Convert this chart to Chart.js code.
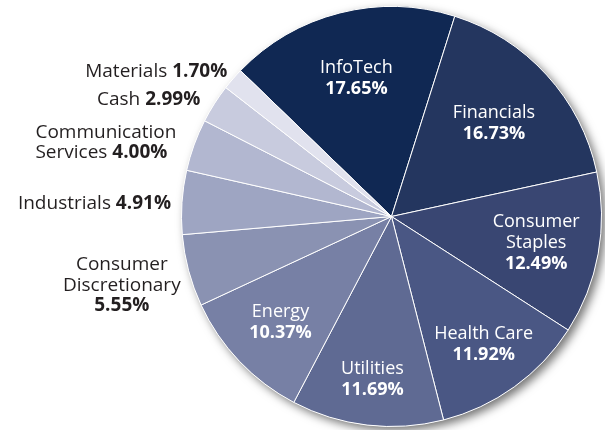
<!DOCTYPE html>
<html>
<head>
<meta charset="utf-8">
<script src="https://cdn.jsdelivr.net/npm/chart.js@4/dist/chart.umd.min.js"></script>
<style>
  html, body { margin: 0; padding: 0; background: #fff; }
  #wrap { width: 605px; height: 430px; }
</style>
</head>
<body>
<div id="wrap"><canvas id="sector-chart"></canvas></div>
<script>
// Sector weights, clockwise from InfoTech
const sectors = ["InfoTech", "Financials", "Consumer Staples", "Health Care", "Utilities", "Energy",
                 "Consumer Discretionary", "Industrials", "Communication Services", "Cash", "Materials"];
const weights = [17.65, 16.73, 12.49, 11.92, 11.69, 10.37, 5.55, 4.91, 4.00, 2.99, 1.70];
const sliceColors = ["#102853", "#24365f", "#394672", "#4a5784", "#5f6a93", "#7780a5",
                     "#8a92b2", "#9ea5c2", "#b2b7d0", "#c8cbde", "#e1e2ee"];
// how each name is broken over lines
const nameLines = [["InfoTech"], ["Financials"], ["Consumer", "Staples"], ["Health Care"], ["Utilities"], ["Energy"],
                   ["Consumer", "Discretionary"], ["Industrials"], ["Communication", "Services"], ["Cash"], ["Materials"]];

const FONT = "'Open Sans', sans-serif";

// soft shadow under the whole pie
const pieShadow = {
    id: 'pieShadow',
    beforeDatasetsDraw(chart) {
        const arc = chart.getDatasetMeta(0).data[0];
        if (!arc) return;
        const ctx = chart.ctx;
        ctx.save();
        ctx.shadowColor = 'rgba(0, 0, 0, 0.55)';
        ctx.shadowBlur = 10;
        ctx.shadowOffsetX = 4;
        ctx.shadowOffsetY = 4;
        ctx.fillStyle = '#fff';
        ctx.beginPath();
        ctx.arc(arc.x, arc.y, arc.outerRadius, 0, Math.PI * 2);
        ctx.fill();
        ctx.restore();
    }
};

// labels: big slices get white text inside, small ones dark text to the left
const sliceLabels = {
    id: 'sliceLabels',
    afterDatasetsDraw(chart, args, opts) {
        const ctx = chart.ctx;
        const meta = chart.getDatasetMeta(0);
        ctx.save();
        ctx.textBaseline = 'middle';
        meta.data.forEach((arc, i) => {
            const mid = (arc.startAngle + arc.endAngle) / 2;
            const lines = nameLines[i];
            const pct = weights[i].toFixed(2) + '%';
            if (i < opts.insideCount) {
                const lh = 21;
                const r = arc.outerRadius * opts.insideRadius[i];
                const cx = arc.x + Math.cos(mid) * r;
                const cy = arc.y + Math.sin(mid) * r;
                const rows = lines.length + 1;
                let y = cy - (rows - 1) * lh / 2;
                ctx.fillStyle = '#fff';
                ctx.textAlign = 'center';
                ctx.font = "18px " + FONT;
                lines.forEach(t => { ctx.fillText(t, cx, y); y += lh; });
                ctx.font = "bold 18px " + FONT;
                ctx.fillText(pct, cx, y);
            } else {
                const lh = 20;
                const r = arc.outerRadius + 6;
                const off = opts.outsideOffset[i - opts.insideCount];
                const ax = arc.x + Math.cos(mid) * r + off[0];
                const ay = arc.y + Math.sin(mid) * r + off[1];
                ctx.fillStyle = '#231f20';
                if (lines.length === 1) {
                    // name and value on one line, right aligned
                    ctx.font = "bold 19px " + FONT;
                    const wp = ctx.measureText(pct).width;
                    ctx.textAlign = 'right';
                    ctx.fillText(pct, ax, ay);
                    ctx.font = "19px " + FONT;
                    ctx.fillText(lines[0] + ' ', ax - wp, ay);
                } else if (off[2] === 'left') {
                    ctx.textAlign = 'left';
                    ctx.font = "19px " + FONT;
                    ctx.fillText(lines[0], ax, ay - lh / 2);
                    const w1 = ctx.measureText(lines[1] + ' ').width;
                    ctx.fillText(lines[1] + ' ', ax, ay + lh / 2);
                    ctx.font = "bold 19px " + FONT;
                    ctx.fillText(pct, ax + w1, ay + lh / 2);
                } else {
                    ctx.textAlign = 'center';
                    ctx.font = "19px " + FONT;
                    ctx.fillText(lines[0], ax, ay - 21);
                    ctx.fillText(lines[1], ax, ay);
                    ctx.font = "bold 19px " + FONT;
                    ctx.fillText(pct, ax, ay + 20);
                }
            }
        });
        ctx.restore();
    }
};

const ctx = document.getElementById('sector-chart').getContext('2d');
new Chart(ctx, {
    type: 'pie',
    data: {
        labels: sectors,
        datasets: [{
            data: weights,
            backgroundColor: sliceColors,
            borderColor: '#ffffff',
            borderWidth: 1,
        }]
    },
    options: {
        responsive: true,
        maintainAspectRatio: false,
        animation: false,
        rotation: -46,
        layout: {
            padding: { left: 178, right: 0, top: 6, bottom: 3 }
        },
        plugins: {
            legend: { display: false },
            tooltip: { enabled: false },
            sliceLabels: {
                insideCount: 6,
                insideRadius: [0.68, 0.66, 0.70, 0.75, 0.78, 0.73],
                // [dx, dy, align] from the point just outside each small slice
                outsideOffset: [
                    [-61, 13, 'center'],
                    [-5, 2],
                    [-153, 0, 'left'],
                    [-9, -1],
                    [-1, -3]
                ]
            }
        }
    },
    plugins: [pieShadow, sliceLabels]
});
</script>
</body>
</html>
